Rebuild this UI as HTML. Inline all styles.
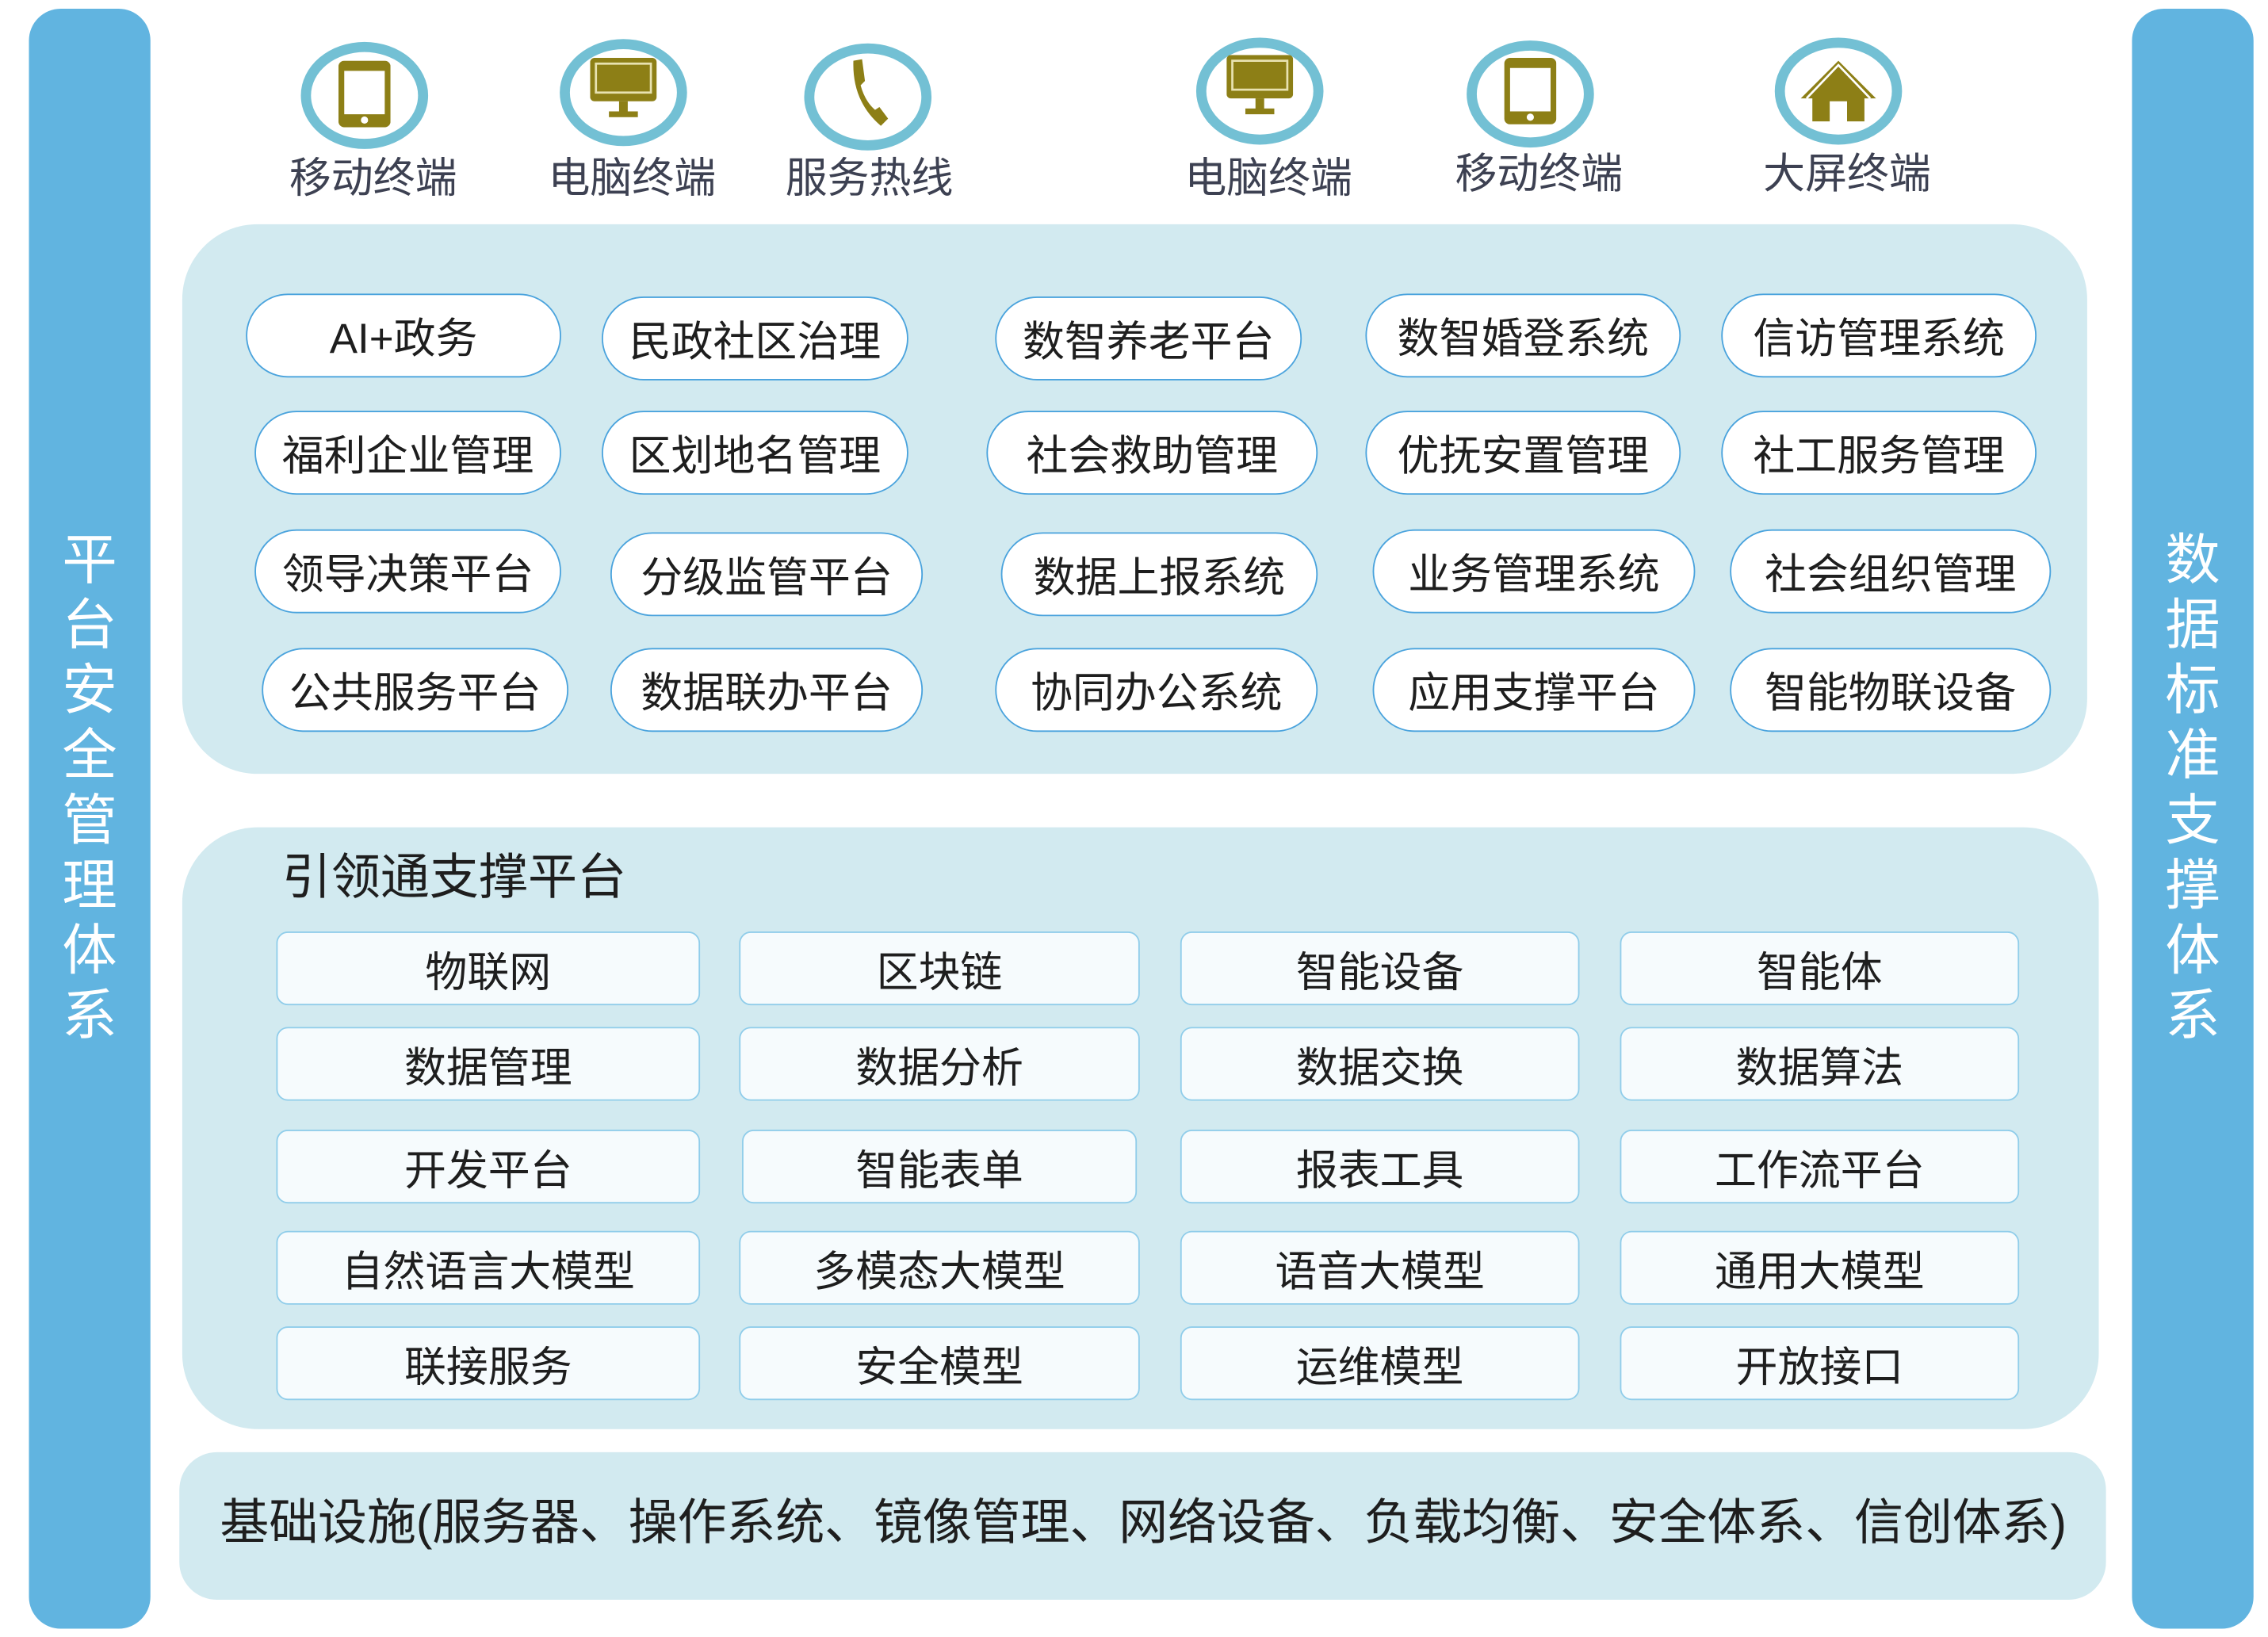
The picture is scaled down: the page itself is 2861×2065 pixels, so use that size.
<!DOCTYPE html>
<html><head><meta charset="utf-8"><style>
html,body{margin:0;padding:0;background:#fff;width:2861px;height:2065px;overflow:hidden}
#w{position:absolute;left:0;top:0;width:1568px;height:1132px;transform:scale(1.8246);transform-origin:0 0;font-family:"Liberation Sans","Noto Sans CJK SC",sans-serif}
.a{position:absolute;box-sizing:border-box}
.bar{background:#61b4e0;border-radius:22px;color:#fff;font-size:38px;line-height:45px;text-align:center}
.ic{position:absolute;width:88px;height:74px;border:7px solid #73c0d4;border-radius:50%;box-sizing:border-box}
.lb{position:absolute;font-size:29px;color:#3d4152;width:160px;text-align:center;line-height:30px}
.panel{background:#d2eaf0}
.pill{position:absolute;height:58px;border:1.5px solid #4aa3dd;border-radius:30px;background:#fff;font-size:29px;color:#1e1e1e;display:flex;align-items:center;justify-content:center;box-sizing:border-box}
.bx{position:absolute;height:51px;border:1.5px solid #90cdea;border-radius:8px;background:#f6fbfd;font-size:29px;color:#1e1e1e;display:flex;align-items:center;justify-content:center;box-sizing:border-box}
</style></head><body><div id="w">
<div class="a bar" style="left:20px;top:6px;width:84px;height:1120px;padding-top:360px">平<br>台<br>安<br>全<br>管<br>理<br>体<br>系</div>
<div class="a bar" style="left:1474px;top:6px;width:84px;height:1120px;padding-top:360px">数<br>据<br>标<br>准<br>支<br>撑<br>体<br>系</div>

<div class="ic" style="left:208px;top:29px"></div>
<svg class="a" style="left:234px;top:42px" width="36" height="46"><rect x="0" y="0" width="36" height="46" rx="4" fill="#8d7f16"/><rect x="4" y="7" width="28" height="30" fill="#fff"/><circle cx="18" cy="41" r="2.5" fill="#fff"/></svg>
<div class="lb" style="left:178px;top:109px">移动终端</div>

<div class="ic" style="left:387px;top:27px"></div>
<svg class="a" style="left:408px;top:40px" width="46" height="42"><rect x="0" y="0" width="46" height="30" rx="3" fill="#8d7f16"/><rect x="4" y="4" width="38" height="20" fill="none" stroke="#e8e2b0" stroke-width="1.5"/><rect x="20" y="30" width="6" height="8" fill="#8d7f16"/><rect x="13" y="37" width="20" height="4" fill="#8d7f16"/></svg>
<div class="lb" style="left:357px;top:109px">电脑终端</div>

<div class="ic" style="left:556px;top:30px"></div>
<svg class="a" style="left:586px;top:40px" width="30" height="48"><path d="M4 2 L10 1 L12 16 L9 19 Q12 30 19 36 L22 34 L28 42 L23 47 Q3 30 4 2Z" fill="#8d7f16"/></svg>
<div class="lb" style="left:521px;top:109px">服务热线</div>

<div class="ic" style="left:827px;top:26px"></div>
<svg class="a" style="left:848px;top:38px" width="46" height="42"><rect x="0" y="0" width="46" height="30" rx="3" fill="#8d7f16"/><rect x="4" y="4" width="38" height="20" fill="none" stroke="#e8e2b0" stroke-width="1.5"/><rect x="20" y="30" width="6" height="8" fill="#8d7f16"/><rect x="13" y="37" width="20" height="4" fill="#8d7f16"/></svg>
<div class="lb" style="left:797px;top:109px">电脑终端</div>

<div class="ic" style="left:1014px;top:28px"></div>
<svg class="a" style="left:1040px;top:40px" width="36" height="46"><rect x="0" y="0" width="36" height="46" rx="4" fill="#8d7f16"/><rect x="4" y="7" width="28" height="30" fill="#fff"/><circle cx="18" cy="41" r="2.5" fill="#fff"/></svg>
<div class="lb" style="left:984px;top:106px">移动终端</div>

<div class="ic" style="left:1227px;top:26px"></div>
<svg class="a" style="left:1243px;top:40px" width="56" height="44"><path d="M28 2 L54 28 L46 28 L46 44 L34 44 L34 30 L22 30 L22 44 L10 44 L10 28 L2 28 Z" fill="#8d7f16"/><path d="M6 28 L28 5 L50 28" fill="none" stroke="#fff" stroke-width="1.5"/></svg>
<div class="lb" style="left:1197px;top:106px">大屏终端</div>

<div class="a panel" style="left:126px;top:155px;width:1317px;height:380px;border-radius:52px"></div>
<div class="pill" style="left:170px;top:203px;width:218px">AI+政务</div>
<div class="pill" style="left:416px;top:205px;width:212px">民政社区治理</div>
<div class="pill" style="left:688px;top:205px;width:212px">数智养老平台</div>
<div class="pill" style="left:944px;top:203px;width:218px">数智婚登系统</div>
<div class="pill" style="left:1190px;top:203px;width:218px">信访管理系统</div>

<div class="pill" style="left:176px;top:284px;width:212px">福利企业管理</div>
<div class="pill" style="left:416px;top:284px;width:212px">区划地名管理</div>
<div class="pill" style="left:682px;top:284px;width:229px">社会救助管理</div>
<div class="pill" style="left:944px;top:284px;width:218px">优抚安置管理</div>
<div class="pill" style="left:1190px;top:284px;width:218px">社工服务管理</div>

<div class="pill" style="left:176px;top:366px;width:212px">领导决策平台</div>
<div class="pill" style="left:422px;top:368px;width:216px">分级监管平台</div>
<div class="pill" style="left:692px;top:368px;width:219px">数据上报系统</div>
<div class="pill" style="left:949px;top:366px;width:223px">业务管理系统</div>
<div class="pill" style="left:1196px;top:366px;width:222px">社会组织管理</div>

<div class="pill" style="left:181px;top:448px;width:212px">公共服务平台</div>
<div class="pill" style="left:422px;top:448px;width:216px">数据联办平台</div>
<div class="pill" style="left:688px;top:448px;width:223px">协同办公系统</div>
<div class="pill" style="left:949px;top:448px;width:223px">应用支撑平台</div>
<div class="pill" style="left:1196px;top:448px;width:222px">智能物联设备</div>

<div class="a panel" style="left:126px;top:572px;width:1325px;height:416px;border-radius:52px"></div>
<div class="a" style="left:195px;top:587px;font-size:34px;color:#1e1e1e;line-height:40px">引领通支撑平台</div>

<div class="bx" style="left:191px;top:644px;width:293px">物联网</div>
<div class="bx" style="left:511px;top:644px;width:277px">区块链</div>
<div class="bx" style="left:816px;top:644px;width:276px">智能设备</div>
<div class="bx" style="left:1120px;top:644px;width:276px">智能体</div>

<div class="bx" style="left:191px;top:710px;width:293px">数据管理</div>
<div class="bx" style="left:511px;top:710px;width:277px">数据分析</div>
<div class="bx" style="left:816px;top:710px;width:276px">数据交换</div>
<div class="bx" style="left:1120px;top:710px;width:276px">数据算法</div>

<div class="bx" style="left:191px;top:781px;width:293px">开发平台</div>
<div class="bx" style="left:513px;top:781px;width:273px">智能表单</div>
<div class="bx" style="left:816px;top:781px;width:276px">报表工具</div>
<div class="bx" style="left:1120px;top:781px;width:276px">工作流平台</div>

<div class="bx" style="left:191px;top:851px;width:293px">自然语言大模型</div>
<div class="bx" style="left:511px;top:851px;width:277px">多模态大模型</div>
<div class="bx" style="left:816px;top:851px;width:276px">语音大模型</div>
<div class="bx" style="left:1120px;top:851px;width:276px">通用大模型</div>

<div class="bx" style="left:191px;top:917px;width:293px">联接服务</div>
<div class="bx" style="left:511px;top:917px;width:277px">安全模型</div>
<div class="bx" style="left:816px;top:917px;width:276px">运维模型</div>
<div class="bx" style="left:1120px;top:917px;width:276px">开放接口</div>

<div class="a panel" style="left:124px;top:1004px;width:1332px;height:102px;border-radius:26px"></div>
<div class="a" style="left:152px;top:1033px;font-size:34px;color:#1e1e1e;line-height:40px;white-space:nowrap;letter-spacing:-0.1px">基础设施(服务器、操作系统、镜像管理、网络设备、负载均衡、安全体系、信创体系)</div>
</div></body></html>
